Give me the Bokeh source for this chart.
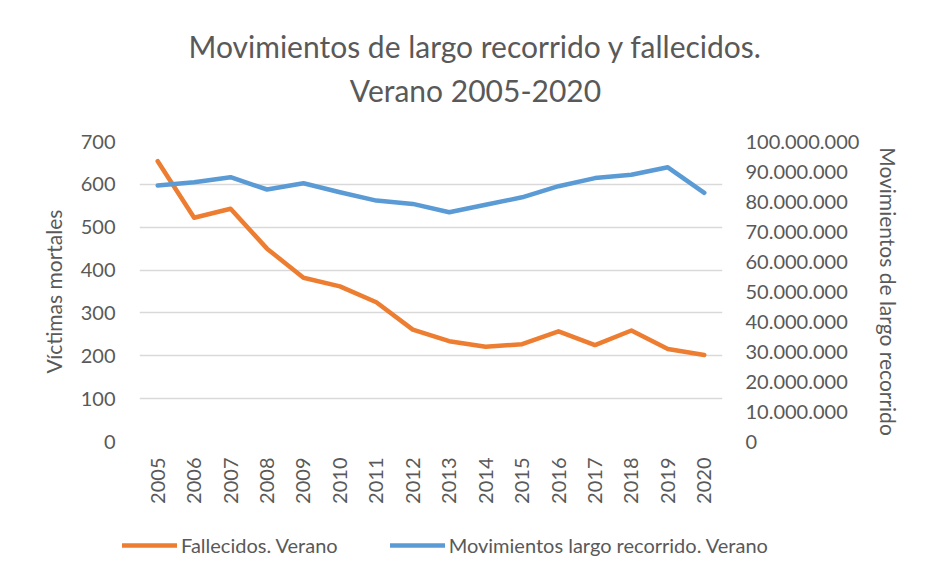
import math
from bokeh.plotting import figure
from bokeh.layouts import column
from bokeh.models import (Range1d, LinearAxis, FixedTicker, CustomJSTickFormatter,
                          Legend, LegendItem)
from bokeh.embed import file_html
from bokeh.resources import INLINE

years = [str(y) for y in range(2005, 2021)]
fallecidos = [654, 522, 543, 450, 382, 362, 325, 261, 234, 221, 227, 257, 225, 259, 216, 202]
movimientos = [85.3e6, 86.4e6, 88.1e6, 84.0e6, 86.1e6, 83.1e6, 80.3e6, 79.2e6,
               76.4e6, 78.9e6, 81.4e6, 85.1e6, 87.8e6, 88.9e6, 91.4e6, 82.9e6]
left_ticks = [0, 100, 200, 300, 400, 500, 600, 700]
right_ticks = [i * 10_000_000 for i in range(11)]
title_line1 = "Movimientos de largo recorrido y fallecidos."
title_line2 = "Verano 2005-2020"
legend_labels = ["Fallecidos. Verano", "Movimientos largo recorrido. Verano"]

FONT = "Lato"
TXT = "#595959"
ORANGE = "#ED7D31"
BLUE = "#5B9BD5"

FRAME_W = 583
xs = list(range(len(years)))
p = figure(width=925, height=510, x_range=Range1d(-0.5, len(years) - 0.5),
           y_range=Range1d(0, 700), output_backend="svg", toolbar_location=None,
           min_border_left=139, min_border_right=203, min_border_top=141,
           min_border_bottom=69)
p.extra_y_ranges = {"right": Range1d(0, 100_000_000)}
p.extra_x_ranges = {"title": Range1d(0, FRAME_W)}
p.outline_line_color = None
p.background_fill_color = "white"
p.border_fill_color = "white"

xa = p.below[0]
xa.ticker = FixedTicker(ticks=xs)
xa.major_label_overrides = {i: y for i, y in zip(xs, years)}
xa.axis_line_color = None
xa.major_tick_line_color = None
xa.minor_tick_line_color = None
xa.major_tick_out = 0
xa.major_tick_in = 0
xa.major_label_orientation = math.pi / 2
xa.major_label_text_font = FONT
xa.major_label_text_font_size = "20px"
xa.major_label_text_color = TXT
xa.major_label_standoff = 16

# two-line title, centred on the whole chart (not the plot area)
title_center = 336
for txt, standoff in [(title_line2, 34), (title_line1, 5)]:
    ta = LinearAxis(x_range_name="title", ticker=FixedTicker(ticks=[title_center]),
                    major_label_overrides={title_center: txt})
    ta.axis_line_color = None
    ta.major_tick_line_color = None
    ta.minor_tick_line_color = None
    ta.major_tick_out = 0
    ta.major_tick_in = 0
    ta.major_label_standoff = standoff
    ta.major_label_text_font = FONT
    ta.major_label_text_font_size = "30px"
    ta.major_label_text_color = TXT
    p.add_layout(ta, "above")

r1 = p.line(xs, fallecidos, line_color=ORANGE, line_width=4.5,
            line_cap="round", line_join="round")
r2 = p.line(xs, movimientos, line_color=BLUE, line_width=4.5,
            line_cap="round", line_join="round", y_range_name="right")

ly = p.left[0]
ly.ticker = FixedTicker(ticks=left_ticks)
ly.axis_label = "Víctimas mortales"
ry = LinearAxis(y_range_name="right", ticker=FixedTicker(ticks=right_ticks),
                axis_label="Movimientos de largo recorrido",
                formatter=CustomJSTickFormatter(code="""
return Math.round(tick).toString().replace(/\\B(?=(\\d{3})+(?!\\d))/g, ".");
"""))
p.add_layout(ry, "right")

for ax in [ly, ry]:
    ax.axis_line_color = None
    ax.major_tick_line_color = None
    ax.minor_tick_line_color = None
    ax.major_tick_out = 0
    ax.major_tick_in = 0
    ax.major_label_text_font = FONT
    ax.major_label_text_font_size = "20px"
    ax.major_label_text_color = TXT
    ax.axis_label_text_font = FONT
    ax.axis_label_text_font_size = "21px"
    ax.axis_label_text_color = TXT
    ax.axis_label_text_font_style = "normal"
ly.major_label_standoff = 24
ly.axis_label_standoff = 12
ry.major_label_standoff = 23
ry.axis_label_standoff = 14
ry.axis_label_orientation = "vertical"

p.xgrid.grid_line_color = None
p.ygrid.grid_line_color = "#D9D9D9"
p.ygrid.grid_line_width = 1.5

# legend strip below the chart
pl = figure(width=925, height=62, x_range=Range1d(0, 1), y_range=Range1d(0, 1),
            output_backend="svg", toolbar_location=None, min_border=0,
            x_axis_location=None, y_axis_location=None)
pl.outline_line_color = None
pl.grid.visible = False

can_unalign = "frame_align" in pl.properties()
if can_unalign:
    pl.frame_align = False
    p.frame_align = False
    leg_loc = (122, 15)
    leg_font = "20px"
    leg_gw, leg_sp = 55, 52
else:
    leg_loc = (0, 15)
    leg_font = "16px"
    leg_gw, leg_sp = 40, 30

# legend proxies: the series' first two points, far outside the strip's visible range
l1 = pl.line([10, 11], [fallecidos[0], fallecidos[1]], line_color=ORANGE,
             line_width=4.5, line_cap="round")
l2 = pl.line([10, 11], [movimientos[0], movimientos[1]], line_color=BLUE,
             line_width=4.5, line_cap="round")
legend = Legend(items=[LegendItem(label=legend_labels[0], renderers=[l1]),
                       LegendItem(label=legend_labels[1], renderers=[l2])],
                orientation="horizontal", location=leg_loc,
                glyph_width=leg_gw, glyph_height=20, label_standoff=4, spacing=leg_sp,
                padding=0, margin=0, border_line_color=None,
                background_fill_alpha=0,
                label_text_font=FONT, label_text_font_size=leg_font,
                label_text_color=TXT)
pl.add_layout(legend, "center")

layout = column(p, pl, spacing=0)
open("out.html", "w").write(file_html(layout, INLINE))
